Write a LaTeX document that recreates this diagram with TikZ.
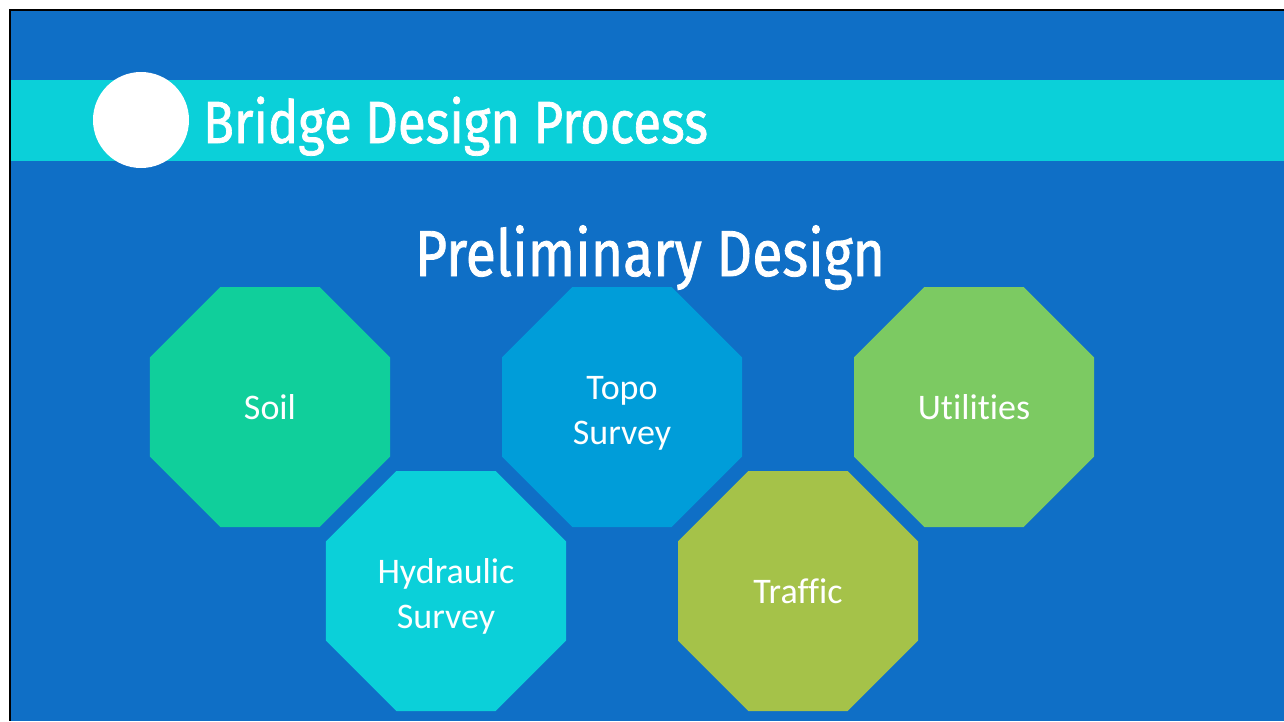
\documentclass[tikz,border=0pt]{standalone}
\usepackage{fontspec}
\usepackage{graphicx}
\setmainfont{Carlito}[Ligatures=CommonOff]
\newfontfamily\titlefont{Fira Sans}[FakeBold=1.3]
\usetikzlibrary{shapes.geometric}
\definecolor{bgblue}{HTML}{0F6FC6}
\definecolor{acc2}{HTML}{009DD9}
\definecolor{acc3}{HTML}{0BD0D9}
\definecolor{acc4}{HTML}{10CF9B}
\definecolor{acc5}{HTML}{7CCA62}
\definecolor{acc6}{HTML}{A5C249}
\newcommand\topstrut{\rule{0pt}{35pt}}
\tikzset{
  oct/.style={regular polygon, regular polygon sides=8, minimum size=259.8pt,
    inner sep=0pt, outer sep=0pt, draw=none, text=white, align=center,
    font=\fontsize{36pt}{45pt}\selectfont},
  ttl/.style={inner sep=0pt, outer sep=0pt, text=white, anchor=base west}
}
\begin{document}
\begin{tikzpicture}[x=1pt,y=-1pt]
\useasboundingbox (0,0) rectangle (1284,721);
\fill[white] (0,0) rectangle (1284,721);
\fill[black] (9,9) rectangle (1284,721);
\fill[bgblue] (11,11) rectangle (1284,721);
\fill[acc3] (11,80) rectangle (1284,161);
\node[circle, fill=white, minimum size=96pt, inner sep=0pt] (dot) at (141,120) {};
\node[ttl] (title) at (203,143) {\resizebox{505pt}{\height}{\titlefont\fontsize{59.5pt}{70pt}\selectfont Bridge Design Process}};
\node[ttl] (sub) at (415,276) {\resizebox{470pt}{\height}{\titlefont\fontsize{65pt}{75pt}\selectfont Preliminary Design}};
\node[oct, fill=acc4] (soil) at (270,407) {Soil};
\node[oct, fill=acc2] (topo) at (622,407) {\topstrut Topo\\Survey};
\node[oct, fill=acc5] (util) at (974,407) {Utilities};
\node[oct, fill=acc3] (hyd) at (446,591) {\topstrut Hydraulic\\Survey};
\node[oct, fill=acc6] (traf) at (798,591) {Traffic};
\end{tikzpicture}
\end{document}
